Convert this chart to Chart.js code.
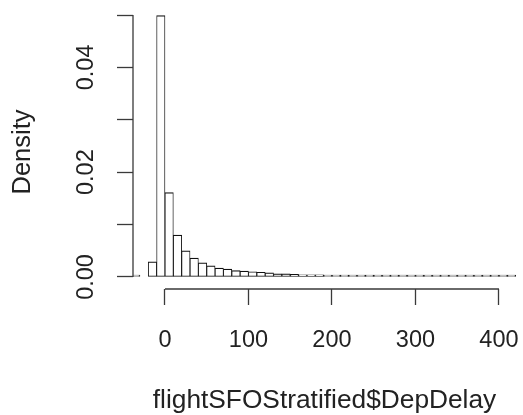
<!DOCTYPE html>
<html>
<head>
<meta charset="utf-8">
<script src="https://cdn.jsdelivr.net/npm/chart.js@4.4.0/dist/chart.umd.min.js"></script>
<style>
  html, body { margin: 0; padding: 0; background: #fff; overflow: hidden; }
  canvas { display: block; }
</style>
</head>
<body>
<canvas id="hist" width="523" height="415"></canvas>
<script>
// histogram bins (left edge, width 10) and density per bin (null = empty bin)
var binStart = [-40, -30, -20, -10, 0, 10, 20, 30, 40, 50, 60, 70, 80, 90,
    100, 110, 120, 130, 140, 150, 160, 170, 180, 190, 200, 210, 220, 230, 240,
    250, 260, 270, 280, 290, 300, 310, 320, 330, 340, 350, 360, 370, 380, 390,
    400, 410];
var density = [0.0003, null, 0.0029, 0.0499, 0.0161, 0.0080, 0.0050, 0.0036, 0.0027,
    0.0021, 0.0017, 0.0015, 0.0012, 0.0011, 0.0010, 0.0009, 0.0008, 0.0006,
    0.0006, 0.0005, 0.0004, 0.0004, 0.0004, 0.0003, 0.0003, 0.0003, 0.0002,
    0.0002, 0.0002, 0.0002, 0.0002, 0.0002, 0.0001, 0.0001, 0.0001, 0.0001,
    0.0001, 0.0001, 0.0001, 0.0001, 0.0001, 0.0001, 0.0001, 0.0001, 0.0001,
    0.0001];
var binWidth = 10;

var xTicks = [0, 100, 200, 300, 400];
var yTicks = [0, 0.01, 0.02, 0.03, 0.04, 0.05];
var yLabels = ['0.00', '', '0.02', '', '0.04', ''];

var xTitle = 'flightSFOStratified$DepDelay';
var yTitle = 'Density';

var ink = '#222';
var axisInk = '#3a3a3a';

Chart.defaults.font.family = "'Liberation Sans', Arial, sans-serif";

// R style axes: lines only from first to last tick
var rAxes = {
    id: 'rAxes',
    afterDraw: function (chart) {
        var ctx = chart.ctx, area = chart.chartArea;
        var x = chart.scales.x, y = chart.scales.y;
        ctx.save();
        ctx.strokeStyle = axisInk;
        ctx.lineWidth = 1.3;
        ctx.beginPath();
        ctx.moveTo(x.getPixelForValue(xTicks[0]), area.bottom);
        ctx.lineTo(x.getPixelForValue(xTicks[xTicks.length - 1]), area.bottom);
        ctx.moveTo(area.left, y.getPixelForValue(yTicks[0]));
        ctx.lineTo(area.left, y.getPixelForValue(yTicks[yTicks.length - 1]));
        ctx.stroke();
        ctx.restore();
    }
};

function noPad(s) {
    s.paddingLeft = 0;
    s.paddingRight = 0;
    s.paddingTop = 0;
    s.paddingBottom = 0;
}

var points = [];
for (var i in binStart) {
    points.push({ x: binStart[i] + binWidth / 2, y: density[i] });
}

new Chart(document.getElementById('hist'), {
    type: 'bar',
    data: {
        datasets: [
            {
                data: points,
                backgroundColor: '#fff',
                borderColor: '#111',
                borderWidth: { top: 1.2, bottom: 1, left: 0.9, right: 0.9 },
                borderSkipped: false,
                minBarLength: 1.8,
                barPercentage: 1,
                categoryPercentage: 1,
                clip: 0
            }
        ]
    },
    plugins: [rAxes],
    options: {
        responsive: false,
        animation: false,
        events: [],
        layout: { padding: { left: 0, top: 15, right: 7, bottom: 0 } },
        plugins: { legend: { display: false }, tooltip: { enabled: false } },
        scales: {
            x: {
                type: 'linear',
                min: -38.3,
                max: 420.4,
                offset: false,
                border: { display: false },
                grid: { offset: false, drawOnChartArea: false, tickLength: 16, tickColor: axisInk, tickWidth: 1.3 },
                afterBuildTicks: function (s) { s.ticks = xTicks.map(function (v) { return { value: v }; }); },
                afterFit: function (s) { s.height = 126; noPad(s); },
                ticks: {
                    color: ink,
                    font: { size: 23.5 },
                    padding: 21,
                    maxRotation: 0,
                    callback: function (v) { return String(v); }
                },
                title: {
                    display: true,
                    text: xTitle,
                    color: ink,
                    font: { size: 26.3, lineHeight: 1 },
                    padding: { top: 0, bottom: 1 }
                }
            },
            y: {
                min: -0.0023,
                max: 0.05,
                border: { display: false },
                grid: { drawOnChartArea: false, tickLength: 16, tickColor: axisInk, tickWidth: 1.3 },
                afterBuildTicks: function (s) { s.ticks = yTicks.map(function (v) { return { value: v }; }); },
                afterFit: function (s) { s.width = 133; noPad(s); },
                ticks: {
                    color: ink,
                    font: { size: 23.5 },
                    padding: 8,
                    minRotation: 90,
                    maxRotation: 90,
                    crossAlign: 'center',
                    callback: function (v, idx) { return yLabels[idx]; }
                },
                title: {
                    display: true,
                    text: yTitle,
                    color: ink,
                    font: { size: 25.5, lineHeight: 1 },
                    padding: { top: 10, bottom: 0 }
                }
            }
        }
    }
});
</script>
</body>
</html>
